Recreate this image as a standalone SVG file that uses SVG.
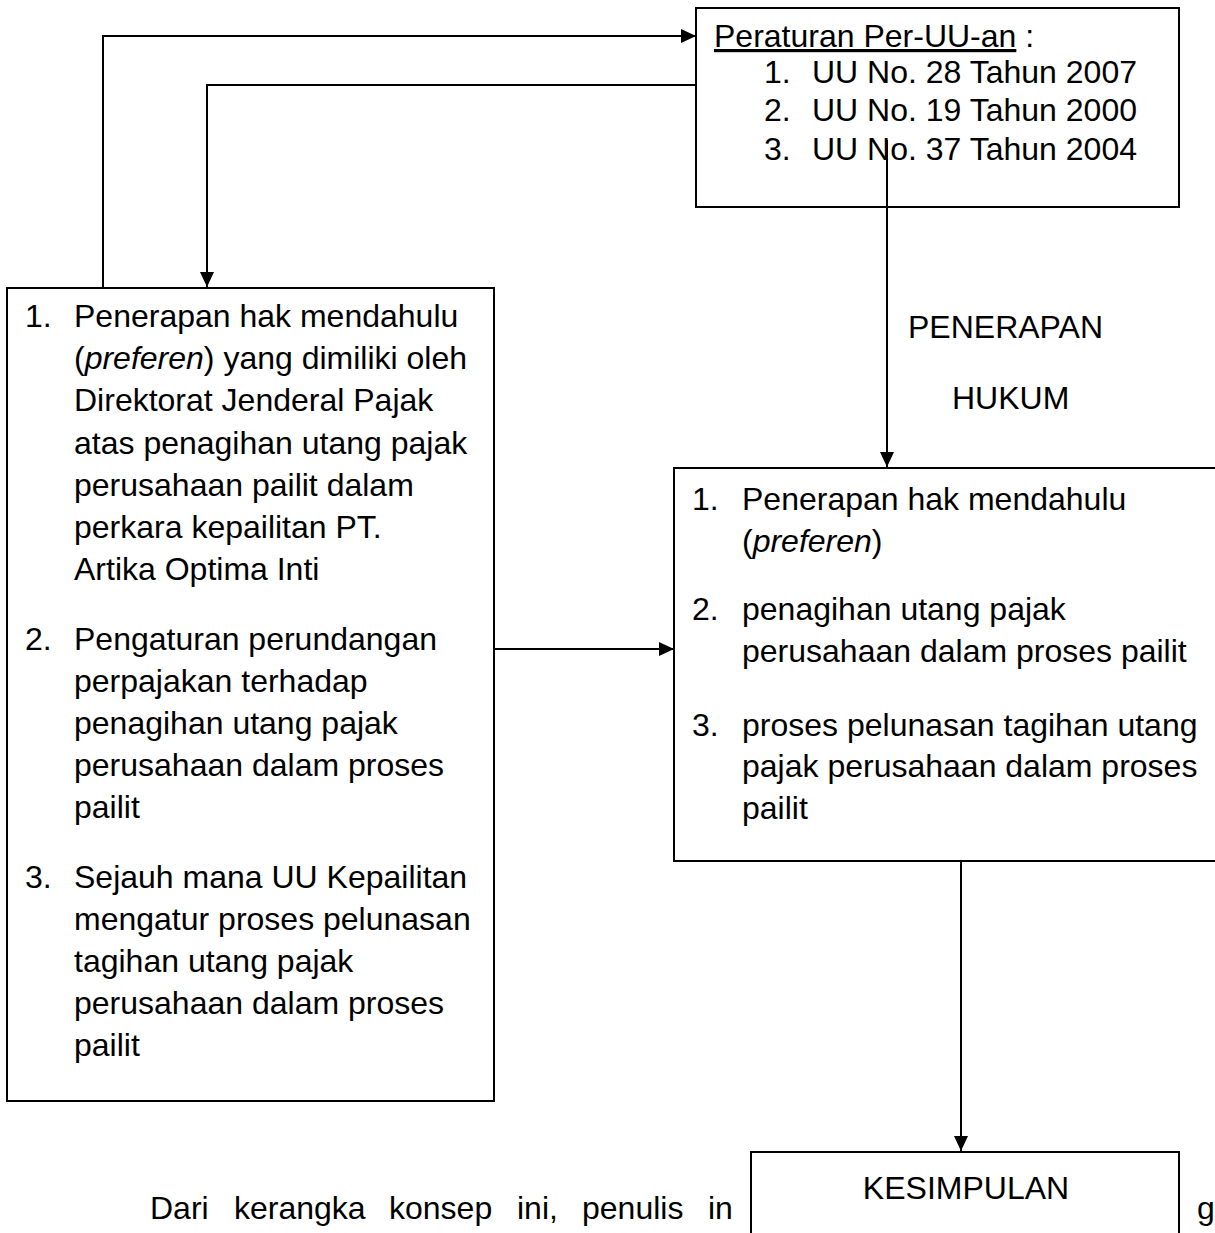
<svg xmlns="http://www.w3.org/2000/svg" width="1215" height="1233" viewBox="0 0 1215 1233">
<style>
text{font-family:"Liberation Sans",Arial,sans-serif;font-size:32px;fill:#000}
.box{fill:#fff;stroke:#000;stroke-width:2}
.conn{fill:none;stroke:#000;stroke-width:2}
.it{font-style:italic}
.ul{text-decoration:underline}
</style>
<defs>
<marker id="arr" markerUnits="userSpaceOnUse" markerWidth="15" markerHeight="14" refX="15" refY="7" orient="auto">
<path d="M0,0 L15,7 L0,14 z" fill="#000"/>
</marker>
</defs>
<rect width="1215" height="1233" fill="#fff"/>
<text x="150" y="1219"><tspan x="150">Dari</tspan><tspan x="234">kerangka</tspan><tspan x="389">konsep</tspan><tspan x="517">ini,</tspan><tspan x="582">penulis</tspan><tspan x="708">in</tspan><tspan x="1197">g</tspan></text>
<g id="node-peraturan">
<rect class="box" x="696" y="8" width="483" height="199"/>
<text x="714" y="47"><tspan class="ul">Peraturan Per-UU-an</tspan> :</text>
<text y="83"><tspan x="764">1.</tspan><tspan x="812">UU No. 28 Tahun 2007</tspan></text>
<text y="121"><tspan x="764">2.</tspan><tspan x="812">UU No. 19 Tahun 2000</tspan></text>
<text y="160"><tspan x="764">3.</tspan><tspan x="812">UU No. 37 Tahun 2004</tspan></text>
</g>
<g id="node-masalah">
<rect class="box" x="7" y="288" width="487" height="813"/>
<text y="327"><tspan x="25">1.</tspan><tspan x="74">Penerapan hak mendahulu</tspan></text>
<text x="74" y="369">(<tspan class="it">preferen</tspan>) yang dimiliki oleh</text>
<text x="74" y="411">Direktorat Jenderal Pajak</text>
<text x="74" y="454">atas penagihan utang pajak</text>
<text x="74" y="496">perusahaan pailit dalam</text>
<text x="74" y="538">perkara kepailitan PT.</text>
<text x="74" y="580">Artika Optima Inti</text>
<text y="650"><tspan x="25">2.</tspan><tspan x="74">Pengaturan perundangan</tspan></text>
<text x="74" y="692">perpajakan terhadap</text>
<text x="74" y="734">penagihan utang pajak</text>
<text x="74" y="776">perusahaan dalam proses</text>
<text x="74" y="818">pailit</text>
<text y="888"><tspan x="25">3.</tspan><tspan x="74">Sejauh mana UU Kepailitan</tspan></text>
<text x="74" y="930">mengatur proses pelunasan</text>
<text x="74" y="972">tagihan utang pajak</text>
<text x="74" y="1014">perusahaan dalam proses</text>
<text x="74" y="1056">pailit</text>
</g>
<g id="node-penerapan">
<rect class="box" x="674" y="468" width="560" height="393"/>
<text y="510"><tspan x="692">1.</tspan><tspan x="742">Penerapan hak mendahulu</tspan></text>
<text x="742" y="552">(<tspan class="it">preferen</tspan>)</text>
<text y="620"><tspan x="692">2.</tspan><tspan x="742">penagihan utang pajak</tspan></text>
<text x="742" y="662">perusahaan dalam proses pailit</text>
<text y="736"><tspan x="692">3.</tspan><tspan x="742">proses pelunasan tagihan utang</tspan></text>
<text x="742" y="777">pajak perusahaan dalam proses</text>
<text x="742" y="819">pailit</text>
</g>
<g id="label-penerapan-hukum">
<text x="908" y="338">PENERAPAN</text>
<text x="952" y="409">HUKUM</text>
</g>
<g id="node-kesimpulan">
<rect class="box" x="751" y="1152" width="428" height="100"/>
<text x="966" y="1199" text-anchor="middle">KESIMPULAN</text>
</g>
<g id="connectors">
<path class="conn" d="M103,288 V36 H696" marker-end="url(#arr)"/>
<path class="conn" d="M696,85 H207 V287" marker-end="url(#arr)"/>
<path class="conn" d="M887,140 V467" marker-end="url(#arr)"/>
<path class="conn" d="M494,649 H674" marker-end="url(#arr)"/>
<path class="conn" d="M961,861 V1151" marker-end="url(#arr)"/>
</g>
</svg>
